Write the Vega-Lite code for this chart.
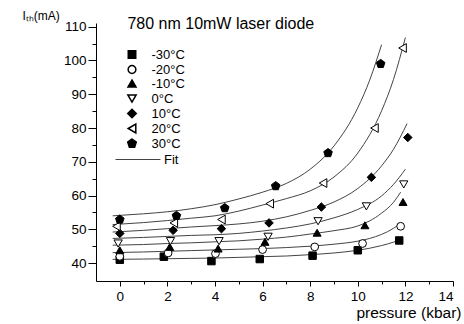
{
  "$schema": "https://vega.github.io/schema/vega-lite/v6.json",
  "width": 357,
  "height": 258,
  "autosize": {"type": "none"},
  "padding": {"left": 96, "top": 23, "right": 11, "bottom": 43},
  "config": {
    "view": {"stroke": null},
    "font": "Liberation Sans",
    "axis": {"grid": false, "domainColor": "black", "tickColor": "black", "labelColor": "black", "titleColor": "black", "titleFontWeight": "normal", "labelFont": "Liberation Sans", "titleFont": "Liberation Sans"},
    "legend": {"padding": 0}
  },
  "datasets": {
    "points": [
      {"t": "-30°C", "p": 0, "ith": 41.0}, {"t": "-30°C", "p": 1.85, "ith": 41.9}, {"t": "-30°C", "p": 3.85, "ith": 40.6}, {"t": "-30°C", "p": 5.88, "ith": 41.2}, {"t": "-30°C", "p": 8.1, "ith": 42.2}, {"t": "-30°C", "p": 10.0, "ith": 43.8}, {"t": "-30°C", "p": 11.74, "ith": 46.7},
      {"t": "-20°C", "p": 0, "ith": 42.0}, {"t": "-20°C", "p": 2.03, "ith": 43.0}, {"t": "-20°C", "p": 4.02, "ith": 42.8}, {"t": "-20°C", "p": 6.0, "ith": 44.0}, {"t": "-20°C", "p": 8.19, "ith": 44.8}, {"t": "-20°C", "p": 10.2, "ith": 45.8}, {"t": "-20°C", "p": 11.8, "ith": 50.9},
      {"t": "-10°C", "p": 0, "ith": 43.8}, {"t": "-10°C", "p": 2.1, "ith": 44.8}, {"t": "-10°C", "p": 4.13, "ith": 44.3}, {"t": "-10°C", "p": 6.1, "ith": 46.3}, {"t": "-10°C", "p": 8.29, "ith": 49.0}, {"t": "-10°C", "p": 10.3, "ith": 51.2}, {"t": "-10°C", "p": 11.9, "ith": 58.1},
      {"t": "0°C", "p": -0.07, "ith": 45.8}, {"t": "0°C", "p": 2.13, "ith": 46.5}, {"t": "0°C", "p": 4.17, "ith": 46.5}, {"t": "0°C", "p": 6.23, "ith": 47.8}, {"t": "0°C", "p": 8.33, "ith": 52.4}, {"t": "0°C", "p": 10.36, "ith": 56.8}, {"t": "0°C", "p": 11.93, "ith": 63.3},
      {"t": "10°C", "p": 0, "ith": 48.8}, {"t": "10°C", "p": 2.24, "ith": 49.7}, {"t": "10°C", "p": 4.27, "ith": 50.2}, {"t": "10°C", "p": 6.27, "ith": 51.9}, {"t": "10°C", "p": 8.47, "ith": 56.6}, {"t": "10°C", "p": 10.57, "ith": 65.4}, {"t": "10°C", "p": 12.1, "ith": 77.2},
      {"t": "20°C", "p": -0.14, "ith": 50.9}, {"t": "20°C", "p": 2.27, "ith": 51.9}, {"t": "20°C", "p": 4.27, "ith": 52.9}, {"t": "20°C", "p": 6.3, "ith": 57.6}, {"t": "20°C", "p": 8.54, "ith": 63.7}, {"t": "20°C", "p": 10.7, "ith": 80.0}, {"t": "20°C", "p": 11.88, "ith": 103.7},
      {"t": "30°C", "p": 0, "ith": 52.9}, {"t": "30°C", "p": 2.38, "ith": 54.0}, {"t": "30°C", "p": 4.41, "ith": 56.3}, {"t": "30°C", "p": 6.55, "ith": 62.8}, {"t": "30°C", "p": 8.75, "ith": 72.6}, {"t": "30°C", "p": 10.96, "ith": 99.0}
    ],
    "fits": [
      {"t": "-30°C", "p": -0.3, "ith": 41.1}, {"t": "-30°C", "p": 1, "ith": 41.2}, {"t": "-30°C", "p": 2, "ith": 41.3}, {"t": "-30°C", "p": 3, "ith": 41.4}, {"t": "-30°C", "p": 4, "ith": 41.5}, {"t": "-30°C", "p": 5, "ith": 41.7}, {"t": "-30°C", "p": 6, "ith": 41.9}, {"t": "-30°C", "p": 7, "ith": 42.1}, {"t": "-30°C", "p": 8, "ith": 42.5}, {"t": "-30°C", "p": 9, "ith": 43.0}, {"t": "-30°C", "p": 10, "ith": 43.8}, {"t": "-30°C", "p": 10.5, "ith": 44.4}, {"t": "-30°C", "p": 11, "ith": 45.2}, {"t": "-30°C", "p": 11.5, "ith": 46.2}, {"t": "-30°C", "p": 11.7, "ith": 46.7},
      {"t": "-20°C", "p": -0.3, "ith": 43.1}, {"t": "-20°C", "p": 1, "ith": 43.3}, {"t": "-20°C", "p": 2, "ith": 43.5}, {"t": "-20°C", "p": 3, "ith": 43.7}, {"t": "-20°C", "p": 4, "ith": 43.9}, {"t": "-20°C", "p": 5, "ith": 44.1}, {"t": "-20°C", "p": 6, "ith": 44.3}, {"t": "-20°C", "p": 7, "ith": 44.6}, {"t": "-20°C", "p": 8, "ith": 45.0}, {"t": "-20°C", "p": 9, "ith": 45.6}, {"t": "-20°C", "p": 10, "ith": 46.5}, {"t": "-20°C", "p": 10.5, "ith": 47.3}, {"t": "-20°C", "p": 11, "ith": 48.5}, {"t": "-20°C", "p": 11.5, "ith": 50.3}, {"t": "-20°C", "p": 11.8, "ith": 51.8},
      {"t": "-10°C", "p": -0.3, "ith": 45.3}, {"t": "-10°C", "p": 1, "ith": 45.5}, {"t": "-10°C", "p": 2, "ith": 45.8}, {"t": "-10°C", "p": 3, "ith": 46.0}, {"t": "-10°C", "p": 4, "ith": 46.3}, {"t": "-10°C", "p": 5, "ith": 46.6}, {"t": "-10°C", "p": 6, "ith": 47.1}, {"t": "-10°C", "p": 7, "ith": 47.7}, {"t": "-10°C", "p": 8, "ith": 48.6}, {"t": "-10°C", "p": 9, "ith": 49.6}, {"t": "-10°C", "p": 10, "ith": 51.0}, {"t": "-10°C", "p": 10.5, "ith": 52.5}, {"t": "-10°C", "p": 11, "ith": 54.8}, {"t": "-10°C", "p": 11.5, "ith": 58.0}, {"t": "-10°C", "p": 11.8, "ith": 61.0},
      {"t": "0°C", "p": -0.3, "ith": 47.3}, {"t": "0°C", "p": 1, "ith": 47.6}, {"t": "0°C", "p": 2, "ith": 47.9}, {"t": "0°C", "p": 3, "ith": 48.2}, {"t": "0°C", "p": 4, "ith": 48.4}, {"t": "0°C", "p": 5, "ith": 48.8}, {"t": "0°C", "p": 6, "ith": 49.5}, {"t": "0°C", "p": 7, "ith": 50.4}, {"t": "0°C", "p": 8, "ith": 51.6}, {"t": "0°C", "p": 9, "ith": 53.4}, {"t": "0°C", "p": 10, "ith": 55.9}, {"t": "0°C", "p": 11, "ith": 59.9}, {"t": "0°C", "p": 11.5, "ith": 63.3}, {"t": "0°C", "p": 12, "ith": 67.8},
      {"t": "10°C", "p": -0.3, "ith": 49.2}, {"t": "10°C", "p": 1, "ith": 49.7}, {"t": "10°C", "p": 2, "ith": 50.2}, {"t": "10°C", "p": 3, "ith": 50.7}, {"t": "10°C", "p": 4, "ith": 51.1}, {"t": "10°C", "p": 5, "ith": 51.6}, {"t": "10°C", "p": 6, "ith": 52.4}, {"t": "10°C", "p": 7, "ith": 53.7}, {"t": "10°C", "p": 8, "ith": 55.6}, {"t": "10°C", "p": 9, "ith": 58.1}, {"t": "10°C", "p": 10, "ith": 62.1}, {"t": "10°C", "p": 11, "ith": 68.8}, {"t": "10°C", "p": 11.5, "ith": 73.7}, {"t": "10°C", "p": 12.07, "ith": 81.3},
      {"t": "20°C", "p": -0.3, "ith": 51.4}, {"t": "20°C", "p": 1, "ith": 52.0}, {"t": "20°C", "p": 2, "ith": 52.6}, {"t": "20°C", "p": 3, "ith": 53.3}, {"t": "20°C", "p": 4, "ith": 54.0}, {"t": "20°C", "p": 5, "ith": 55.4}, {"t": "20°C", "p": 6, "ith": 57.2}, {"t": "20°C", "p": 7, "ith": 59.1}, {"t": "20°C", "p": 8, "ith": 61.4}, {"t": "20°C", "p": 9, "ith": 65.5}, {"t": "20°C", "p": 10, "ith": 72.6}, {"t": "20°C", "p": 11, "ith": 85.1}, {"t": "20°C", "p": 11.5, "ith": 94.4}, {"t": "20°C", "p": 12, "ith": 106.8},
      {"t": "30°C", "p": -0.3, "ith": 54.0}, {"t": "30°C", "p": 1, "ith": 54.6}, {"t": "30°C", "p": 2, "ith": 55.2}, {"t": "30°C", "p": 3, "ith": 56.1}, {"t": "30°C", "p": 4, "ith": 57.3}, {"t": "30°C", "p": 5, "ith": 59.0}, {"t": "30°C", "p": 6, "ith": 61.0}, {"t": "30°C", "p": 7, "ith": 63.6}, {"t": "30°C", "p": 8, "ith": 67.8}, {"t": "30°C", "p": 9, "ith": 74.7}, {"t": "30°C", "p": 10, "ith": 86.0}, {"t": "30°C", "p": 10.5, "ith": 94.2}, {"t": "30°C", "p": 11, "ith": 104.7}
    ],
    "notes": [
      {"note": "780 nm 10mW laser diode", "p": 0.32, "ith": 110.7}
    ]
  },
  "encoding": {
    "x": {"field": "p", "type": "quantitative", "scale": {"domain": [-1, 14], "nice": false, "zero": false},
      "axis": {"values": [0, 1, 2, 3, 4, 5, 6, 7, 8, 9, 10, 11, 12, 13, 14], "labelExpr": "datum.value % 2 === 0 ? datum.label : ''",
        "tickSize": {"condition": {"test": "datum.value % 2 === 0", "value": 5}, "value": 3},
        "labelFontSize": 13.5, "labelPadding": 3,
        "title": "pressure (kbar)", "titleFontSize": 15.5, "titleX": 365, "titleY": 31, "titleAlign": "right", "titleBaseline": "middle", "titleLimit": 200}},
    "y": {"field": "ith", "type": "quantitative", "scale": {"domain": [34.7, 111.1], "nice": false, "zero": false},
      "axis": {"values": [40, 45, 50, 55, 60, 65, 70, 75, 80, 85, 90, 95, 100, 105, 110], "labelExpr": "datum.value % 10 === 0 ? datum.label : ''",
        "tickSize": {"condition": {"test": "datum.value % 10 === 0", "value": 8}, "value": 4},
        "labelFontSize": 13.5, "labelPadding": 2,
        "title": "Iₜₕ(mA)", "titleFontSize": 12, "titleAngle": 0, "titleX": -74, "titleY": -8, "titleAlign": "left", "titleBaseline": "middle"}}
  },
  "layer": [
    {
      "data": {"name": "fits"},
      "mark": {"type": "line", "interpolate": "monotone", "strokeWidth": 1},
      "encoding": {
        "detail": {"field": "t", "type": "nominal"},
        "stroke": {"datum": "Fit", "type": "nominal", "scale": {"range": ["#444444"]},
          "legend": {"title": null, "orient": "none", "legendX": 19, "legendY": 113.5, "symbolType": "stroke", "symbolSize": 2025, "symbolStrokeWidth": 1, "labelFontSize": 13, "labelOffset": 3, "labelColor": "black"}}
      }
    },
    {
      "data": {"name": "points"},
      "mark": {"type": "point", "stroke": "black", "strokeWidth": 1, "opacity": 1},
      "encoding": {
        "shape": {"field": "t", "type": "nominal",
          "scale": {"domain": ["-30°C", "-20°C", "-10°C", "0°C", "10°C", "20°C", "30°C"], "range": ["square", "circle", "triangle-up", "triangle-down", "diamond", "triangle-left", "M0,-1L0.951,-0.309L0.588,0.809L-0.588,0.809L-0.951,-0.309Z"]},
          "legend": {"title": null, "orient": "none", "legendX": 29.5, "legendY": 25, "labelFontSize": 13, "labelOffset": 13, "rowPadding": 0, "labelColor": "black",
            "labelExpr": "(datum.label[0] === '-' ? '' : '\u2009') + datum.label",
            "encode": {"symbols": {"update": {"stroke": {"value": "black"}, "strokeWidth": {"value": 1}, "opacity": {"value": 1}}}}}},
        "fill": {"field": "t", "type": "nominal",
          "scale": {"domain": ["-30°C", "-20°C", "-10°C", "0°C", "10°C", "20°C", "30°C"], "range": ["black", "white", "black", "white", "black", "white", "black"]},
          "legend": {"title": null, "orient": "none", "legendX": 29.5, "legendY": 25, "labelFontSize": 13, "labelOffset": 13, "rowPadding": 0, "labelColor": "black",
            "labelExpr": "(datum.label[0] === '-' ? '' : '\u2009') + datum.label",
            "encode": {"symbols": {"update": {"stroke": {"value": "black"}, "strokeWidth": {"value": 1}, "opacity": {"value": 1}}}}}},
        "size": {"field": "t", "type": "nominal",
          "scale": {"domain": ["-30°C", "-20°C", "-10°C", "0°C", "10°C", "20°C", "30°C"], "range": [56, 81, 80, 110, 110, 100, 100]},
          "legend": {"title": null, "orient": "none", "legendX": 29.5, "legendY": 25, "labelFontSize": 13, "labelOffset": 13, "rowPadding": 0, "labelColor": "black",
            "labelExpr": "(datum.label[0] === '-' ? '' : '\u2009') + datum.label",
            "encode": {"symbols": {"update": {"stroke": {"value": "black"}, "strokeWidth": {"value": 1}, "opacity": {"value": 1}}}}}}
      }
    },
    {
      "data": {"name": "notes"},
      "mark": {"type": "text", "align": "left", "baseline": "middle", "fontSize": 16, "font": "Liberation Sans", "color": "black"},
      "encoding": {"text": {"field": "note", "type": "nominal"}}
    }
  ]
}
